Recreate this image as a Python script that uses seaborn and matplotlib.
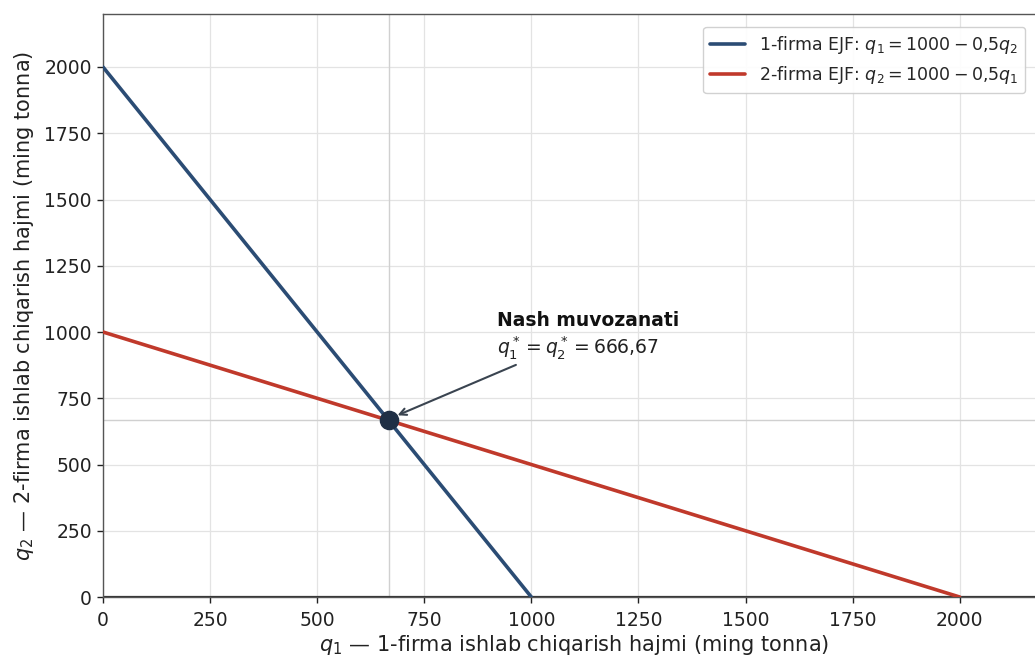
import matplotlib
matplotlib.use("Agg")
import matplotlib.pyplot as plt
import seaborn as sns
import pandas as pd

# Data
br1_q1 = [0, 1000]
br1_q2 = [2000, 0]
br2_q1 = [0, 2000]
br2_q2 = [1000, 0]
nash_q = [666.67]
xticks = [0, 250, 500, 750, 1000, 1250, 1500, 1750, 2000]
yticks = [0, 250, 500, 750, 1000, 1250, 1500, 1750, 2000]

sns.set_theme(style="whitegrid")
plt.rcParams['font.family'] = ['DejaVu Sans']

fig = plt.figure(figsize=(10.35, 6.57), dpi=100)
ax = fig.add_axes([0.0995, 0.0913, 0.9105, 0.8874])

blue = "#2b4c74"
red = "#c0392b"
df1 = pd.DataFrame({"q1": br1_q1, "q2": br1_q2})
df2 = pd.DataFrame({"q1": br2_q1, "q2": br2_q2})
sns.lineplot(data=df1, x="q1", y="q2", ax=ax, color=blue, linewidth=2.6,
             label=r"1-firma EJF: $q_1 = 1000 - 0{,}5q_2$", zorder=3)
sns.lineplot(data=df2, x="q1", y="q2", ax=ax, color=red, linewidth=2.6,
             label=r"2-firma EJF: $q_2 = 1000 - 0{,}5q_1$", zorder=3)

ax.axhline(nash_q[0], color="#d0d0d0", linewidth=1.0, zorder=1)
ax.axvline(nash_q[0], color="#d0d0d0", linewidth=1.0, zorder=1)
ax.axhline(0, color="#333333", linewidth=1.6, zorder=2)

sns.scatterplot(x=nash_q, y=nash_q, ax=ax, s=170, color="#1f2f45", zorder=5,
                edgecolor="#1f2f45", legend=False)

ax.annotate("", xy=(nash_q[0] + 15, nash_q[0] + 15), xytext=(970, 880),
            arrowprops=dict(arrowstyle="->", color="#3a4450", lw=1.5), zorder=6)
ax.text(920, 1045, "Nash muvozanati", fontsize=13.5, fontweight="bold",
        color="#111111", va="center", ha="left")
ax.text(920, 940, r"$q_1^* = q_2^* = 666{,}67$", fontsize=13.5,
        color="#222222", va="center", ha="left")

ax.set_xlim(0, 2200)
ax.set_ylim(0, 2200)
ax.set_xticks(xticks)
ax.set_yticks(yticks)
ax.tick_params(axis="both", labelsize=13.5, length=4, width=1, colors="#222222",
               bottom=True, left=True)
ax.tick_params(axis="x", pad=6)
ax.tick_params(axis="y", pad=4)
for s in ["left", "top", "bottom", "right"]:
    ax.spines[s].set_color("#555555")
    ax.spines[s].set_linewidth(1.0)
ax.grid(True, color="#e3e3e3", linewidth=0.9)

ax.set_xlabel(r"$q_1$ — 1-firma ishlab chiqarish hajmi (ming tonna)", fontsize=15,
              color="#222222", labelpad=2)
ax.set_ylabel(r"$q_2$ — 2-firma ishlab chiqarish hajmi (ming tonna)", fontsize=15,
              color="#222222", labelpad=6)

leg = ax.legend(loc="upper right", bbox_to_anchor=(0.988, 0.993), fontsize=12.5,
                frameon=True, fancybox=True, framealpha=0.9)
leg.get_frame().set_edgecolor("#cccccc")

fig.savefig("out.png", dpi=100)
